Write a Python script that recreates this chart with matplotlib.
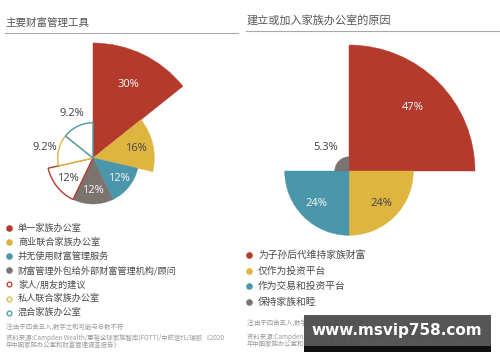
import numpy as np
import matplotlib
matplotlib.use("Agg")
import matplotlib.pyplot as plt
from matplotlib.patches import Rectangle

plt.rcParams['font.family'] = ['Noto Sans CJK SC', 'DejaVu Sans']

# ---------------- data ----------------
left_title = "主要财富管理工具"
left_labels = ["单一家族办公室", "商业联合家族办公室", "并无使用财富管理服务",
               "财富管理外包给外部财富管理机构/顾问", "家人/朋友的建议",
               "私人联合家族办公室", "混合家族办公室"]
left_values = [30, 16, 12, 12, 12, 9.2, 9.2]
left_texts = ["30%", "16%", "12%", "12%", "12%", "9.2%", "9.2%"]
left_filled = [True, True, True, True, False, False, False]

right_title = "建立或加入家族办公室的原因"
right_labels = ["为子孙后代维持家族财富", "仅作为投资平台", "作为交易和投资平台", "保持家族和睦"]
right_values = [47, 24, 24, 5.3]
right_texts = ["47%", "24%", "24%", "5.3%"]
right_filled = [True, True, True, True]

note = "注:由于四舍五入,数字之和可能与总数不符"
source1 = "资料来源:Campden Wealth/惠裕全球家族智库(FOTT)/中航信托/瑞银 《2020"
source2 = "年中国家族办公室和财富管理调查报告》"

RED, YEL, TEAL, GREY = "#B43A2C", "#DDB53F", "#4A97AC", "#7B7370"
left_colors = [RED, YEL, TEAL, GREY, RED, YEL, TEAL]
right_colors = [RED, YEL, TEAL, GREY]

W, H = 500, 362
fig = plt.figure(figsize=(W / 100, H / 100), dpi=100)
fig.patch.set_facecolor("white")

def fx(x):
    return x / W

def fy(y):
    return 1 - y / H

def polar_chart(cx, cy, rpx_max, values, texts, colors, filled, out_px, text_colors):
    Rpx = rpx_max + 6
    rmax = max(values) * Rpx / rpx_max
    ax = fig.add_axes([fx(cx - Rpx), fy(cy + Rpx), 2 * Rpx / W, 2 * Rpx / H], projection="polar")
    ax.set_theta_zero_location("N")
    ax.set_theta_direction(-1)
    n = len(values)
    width = 2 * np.pi / n
    thetas = np.arange(n) * width + width / 2
    for t, v, c, f in zip(thetas, values, colors, filled):
        if f:
            ax.bar(t, v, width=width, bottom=0, color=c, edgecolor=c, linewidth=0.3, clip_on=False)
        else:
            ax.bar(t, v, width=width, bottom=0, facecolor="white", edgecolor=c, linewidth=1.0, clip_on=False)
    ax.set_ylim(0, rmax)
    ax.set_axis_off()
    for t, v, s, tc in zip(thetas, values, texts, text_colors):
        if v >= 12:
            r = 0.71 * v
        else:
            r = v + out_px * rmax / Rpx
        ax.text(t, r, s, ha="center", va="center", fontsize=8, color=tc,
                family=["Noto Sans", "DejaVu Sans"], fontweight="light", clip_on=False)
    return ax

WHITE, DARK = "#f4f0ee", "#4a4a4a"
polar_chart(93, 158, 115, left_values, left_texts, left_colors, left_filled, 14,
            [WHITE, DARK, WHITE, WHITE, DARK, DARK, DARK])
polar_chart(349, 171, 126, right_values, right_texts, right_colors, right_filled, 19,
            [WHITE, DARK, WHITE, DARK])

# overlay axes in pixel coordinates for text
ov = fig.add_axes([0, 0, 1, 1])
ov.set_xlim(0, W)
ov.set_ylim(H, 0)
ov.set_axis_off()
ov.patch.set_alpha(0)

TITLE_C = "#555555"
ov.text(5, 23, left_title, fontsize=7.6, color=TITLE_C, va="center", ha="left")
ov.plot([5, 238], [33, 33], color="#a8a8a8", lw=0.8)
ov.text(247, 20, right_title, fontsize=8, color=TITLE_C, va="center", ha="left")
ov.plot([246, 499], [31, 31], color="#a8a8a8", lw=0.8)

LEG_C = "#4a4a4a"
for i, (lab, c, f) in enumerate(zip(left_labels, left_colors, left_filled)):
    y = 228 + i * 14.1
    if f:
        ov.scatter([9], [y], s=14, color=c, zorder=3)
    else:
        ov.scatter([9], [y], s=12, facecolor="white", edgecolor=c, linewidth=0.9, zorder=3)
    ov.text(18, y, lab, fontsize=6.6, color=LEG_C, va="center", ha="left")

for i, (lab, c) in enumerate(zip(right_labels, right_colors)):
    y = 255 + i * 15.5
    ov.scatter([249], [y], s=14, color=c, zorder=3)
    ov.text(258, y, lab, fontsize=7, color=LEG_C, va="center", ha="left")

NOTE_C = "#9a9a9a"
ov.text(6, 328, note, fontsize=4.6, color=NOTE_C, va="center", ha="left")
ov.text(6, 338, source1, fontsize=4.6, color=NOTE_C, va="center", ha="left")
ov.text(6, 345, source2, fontsize=4.6, color=NOTE_C, va="center", ha="left")
ov.text(247, 324, note, fontsize=4.6, color=NOTE_C, va="center", ha="left")
ov.text(247, 337, source1, fontsize=4.6, color=NOTE_C, va="center", ha="left")
ov.text(247, 344, source2, fontsize=4.6, color=NOTE_C, va="center", ha="left")

# watermark banner
ov.add_patch(Rectangle((304, 315), 187, 31, facecolor="#4d4d4d", edgecolor="none", alpha=0.95, zorder=5))
ov.add_patch(Rectangle((304, 346), 187, 6, facecolor="#111111", edgecolor="none", zorder=5))
ov.text(397, 331, "www.msvip758.com", fontsize=11, fontweight="bold", color="white",
        family=["DejaVu Sans"], ha="center", va="center", zorder=6)

fig.savefig("out.png", dpi=100, facecolor="white")
